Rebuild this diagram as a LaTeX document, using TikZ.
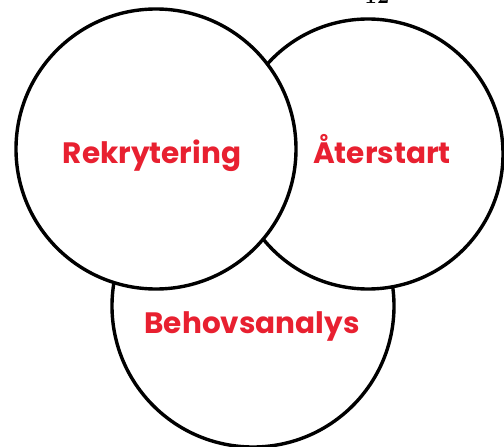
\documentclass[tikz,border=0pt]{standalone}
\usepackage{fontspec}
\setmainfont{Poppins}
\newfontfamily\pagefont{Latin Modern Roman}
\usetikzlibrary{positioning}
\definecolor{labelc}{RGB}{232,32,48}
\tikzstyle{ring} = [
  draw=black,
  fill=white,
  line width=3.4pt,
]
\tikzstyle{label} = [
  text=labelc,
  font=\bfseries\fontsize{29.5}{31}\selectfont,
  anchor=base,
  inner sep=0pt,
]

\begin{document}
\begin{tikzpicture}[x=1pt, y=-1pt]
    \useasboundingbox (0,0) rectangle (504,447);
    \clip (0,0) rectangle (504,447);

    \coordinate (R) at (156,149);
    \coordinate (A) at (368,154);
    \coordinate (B) at (253,306);

    % Page number, cut at the top edge
    \node[font=\pagefont\bfseries\fontsize{22}{22}\selectfont, inner sep=0pt, anchor=base] (page) at (377,3) {12};

    % Circles
    \draw[ring] (B) circle (141);
    \draw[ring] (A) circle (135);
    \draw[ring] (R) circle (140);

    % Labels
    \node[label] (rek) at (152,163) {Rekrytering};
    \node[label] (ater) at (382,163) {Återstart};
    \node[label] (beh) at (252,333) {Behovsanalys};
\end{tikzpicture}
\end{document}
